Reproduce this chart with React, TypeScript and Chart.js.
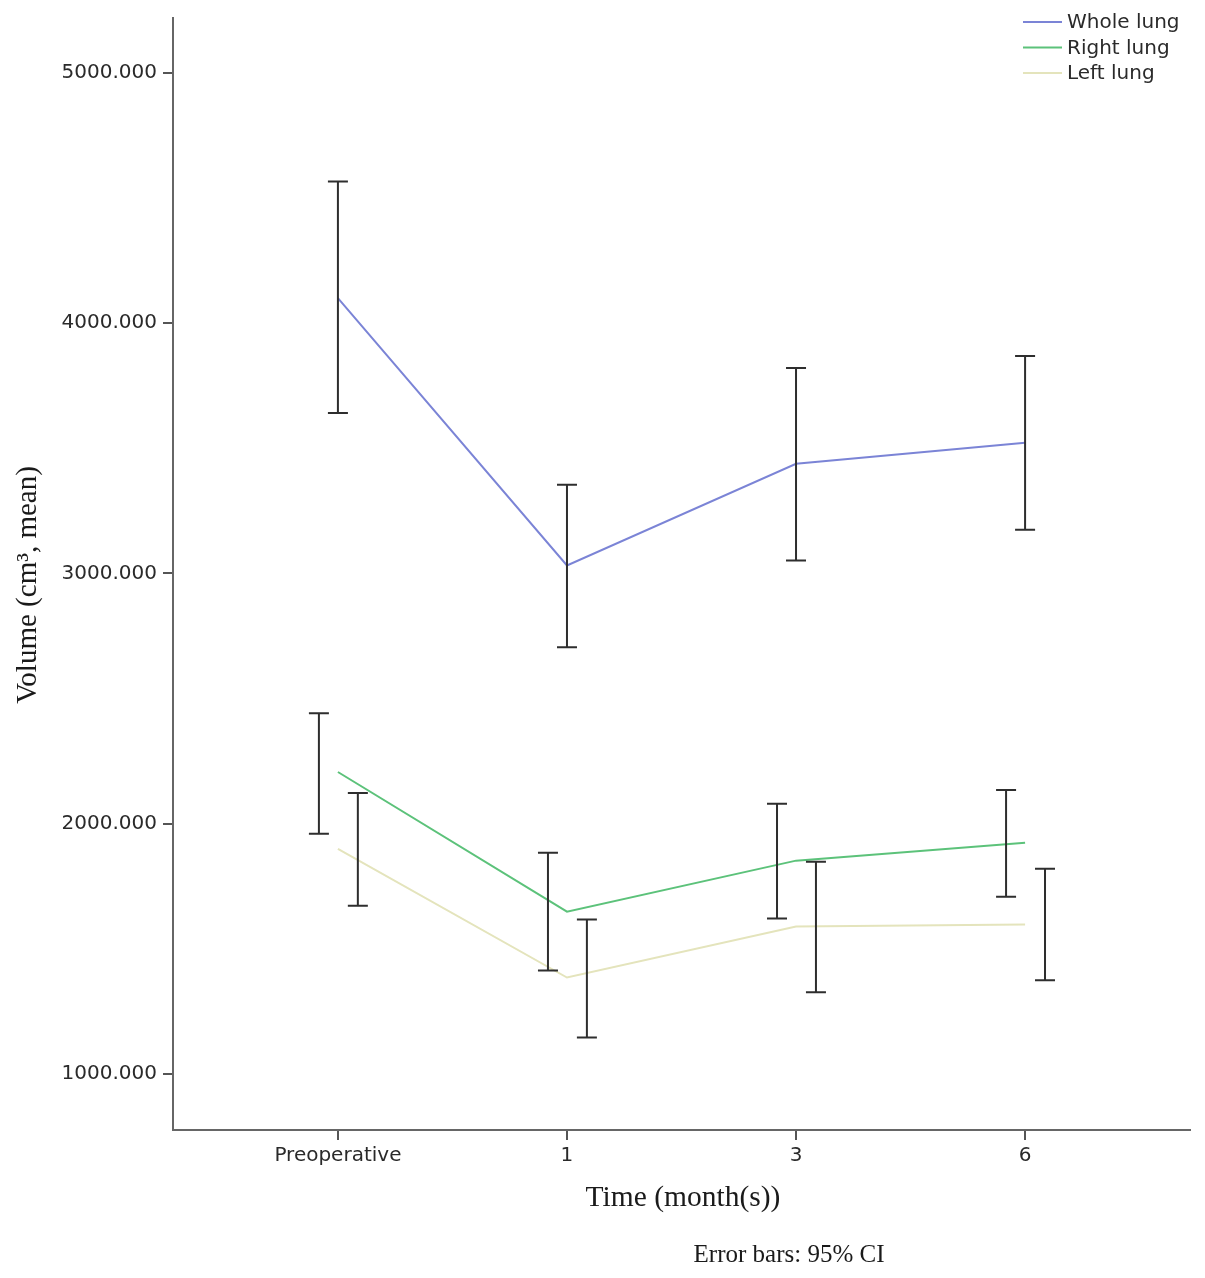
import React, { useEffect, useRef } from "react";
import { Chart, registerables } from "chart.js";

Chart.register(...registerables);

const categories = ["Preoperative", "1", "3", "6"];
const yTicks = [1000, 2000, 3000, 4000, 5000];

const wholeMean = [4100, 3032, 3438, 3522];
const wholeLow = [3641, 2705, 3052, 3175];
const wholeHigh = [4566, 3355, 3821, 3869];

const rightMean = [2207, 1649, 1853, 1924];
const rightLow = [1960, 1414, 1622, 1709];
const rightHigh = [2442, 1885, 2080, 2135];

const leftMean = [1900, 1386, 1590, 1598];
const leftLow = [1673, 1147, 1327, 1375];
const leftHigh = [2123, 1618, 1849, 1821];

const seriesLabels = ["Whole lung", "Right lung", "Left lung"];

const SANS = "'DejaVu Sans', sans-serif";
const SERIF = "'Liberation Serif', 'Times New Roman', serif";

const errorBarPlugin = {
  id: "errorBars",
  afterDatasetsDraw(chart: any) {
    const ctx = chart.ctx;
    const xs = chart.scales.x;
    const ys = chart.scales.y;
    ctx.save();
    ctx.strokeStyle = "#2e2e2e";
    ctx.lineWidth = 2;
    chart.data.datasets.forEach((ds: any) => {
      const off = ds.errOffset || 0;
      ds.low.forEach((lo: number, i: number) => {
        const hi = ds.high[i];
        const x = xs.getPixelForValue(i + off);
        const y1 = ys.getPixelForValue(lo);
        const y2 = ys.getPixelForValue(hi);
        ctx.beginPath();
        ctx.moveTo(x, y1);
        ctx.lineTo(x, y2);
        ctx.moveTo(x - 10, y1);
        ctx.lineTo(x + 10, y1);
        ctx.moveTo(x - 10, y2);
        ctx.lineTo(x + 10, y2);
        ctx.stroke();
      });
    });
    ctx.restore();
  },
};

const textPlugin = {
  id: "texts",
  afterDraw(chart: any) {
    const ctx = chart.ctx;
    ctx.save();
    // legend
    ctx.textAlign = "left";
    ctx.textBaseline = "middle";
    ctx.font = `20px ${SANS}`;
    chart.data.datasets.forEach((ds: any, i: number) => {
      const y = 22 + i * 25.5;
      ctx.strokeStyle = ds.borderColor;
      ctx.lineWidth = 2;
      ctx.beginPath();
      ctx.moveTo(1023, y);
      ctx.lineTo(1062, y);
      ctx.stroke();
      ctx.fillStyle = "#2a2a2a";
      ctx.fillText(ds.label, 1067, y + 1);
    });
    // axis titles
    ctx.fillStyle = "#1a1a1a";
    ctx.textAlign = "center";
    ctx.font = `29.5px ${SERIF}`;
    ctx.fillText("Time (month(s))", 683, 1198);
    ctx.font = `25px ${SERIF}`;
    ctx.fillText("Error bars: 95% CI", 789, 1255);
    ctx.translate(28, 585);
    ctx.rotate(-Math.PI / 2);
    ctx.font = `29px ${SERIF}`;
    ctx.fillText("Volume (cm\u00B3, mean)", 0, 0);
    ctx.restore();
  },
};

export default function App() {
  const ref = useRef<HTMLCanvasElement>(null);
  useEffect(() => {
    if (!ref.current) return;
    const toXY = (arr: number[]) => arr.map((v, i) => ({ x: i, y: v }));
    const chart = new Chart(ref.current, {
      type: "line",
      data: {
        datasets: [
          {
            label: seriesLabels[0],
            data: toXY(wholeMean),
            borderColor: "#7b84d6",
            borderWidth: 2,
            pointRadius: 0,
            tension: 0,
            low: wholeLow,
            high: wholeHigh,
            errOffset: 0,
          } as any,
          {
            label: seriesLabels[1],
            data: toXY(rightMean),
            borderColor: "#5cc27a",
            borderWidth: 2,
            pointRadius: 0,
            tension: 0,
            low: rightLow,
            high: rightHigh,
            errOffset: -0.083,
          } as any,
          {
            label: seriesLabels[2],
            data: toXY(leftMean),
            borderColor: "#e4e4bc",
            borderWidth: 2,
            pointRadius: 0,
            tension: 0,
            low: leftLow,
            high: leftHigh,
            errOffset: 0.087,
          } as any,
        ],
      },
      options: {
        animation: false,
        responsive: false,
        devicePixelRatio: 1,
        layout: { padding: { top: 15, right: 15, left: 0, bottom: 0 } },
        plugins: { legend: { display: false }, tooltip: { enabled: false } },
        scales: {
          x: {
            type: "linear",
            min: -0.72,
            max: 3.72,
            afterFit: (s: any) => {
              s.height = 148;
            },
            afterBuildTicks: (s: any) => {
              s.ticks = categories.map((_, i) => ({ value: i }));
            },
            grid: {
              display: true,
              drawOnChartArea: false,
              drawTicks: true,
              tickLength: 10,
              color: "#555",
              lineWidth: 2,
            },
            border: { display: true, color: "#666", width: 2 },
            ticks: {
              padding: 4,
              color: "#2a2a2a",
              font: { family: SANS, size: 20 },
              callback: (v: any) => categories[v] ?? "",
              maxRotation: 0,
              autoSkip: false,
            },
          },
          y: {
            type: "linear",
            min: 777,
            max: 5219,
            afterFit: (s: any) => {
              s.width = 173;
            },
            afterBuildTicks: (s: any) => {
              s.ticks = yTicks.map((v) => ({ value: v }));
            },
            grid: {
              display: true,
              drawOnChartArea: false,
              drawTicks: true,
              tickLength: 10,
              color: "#555",
              lineWidth: 2,
            },
            border: { display: true, color: "#666", width: 2 },
            ticks: {
              padding: 6,
              color: "#2a2a2a",
              font: { family: SANS, size: 20 },
              callback: (v: any) => Number(v).toFixed(3),
            },
          },
        },
      },
      plugins: [errorBarPlugin, textPlugin],
    } as any);
    return () => chart.destroy();
  }, []);
  return (
    <div style={{ position: "absolute", left: 0, top: 0, width: 1205, height: 1278, background: "#fff" }}>
      <canvas ref={ref} width={1205} height={1278} style={{ width: 1205, height: 1278, display: "block" }} />
    </div>
  );
}
